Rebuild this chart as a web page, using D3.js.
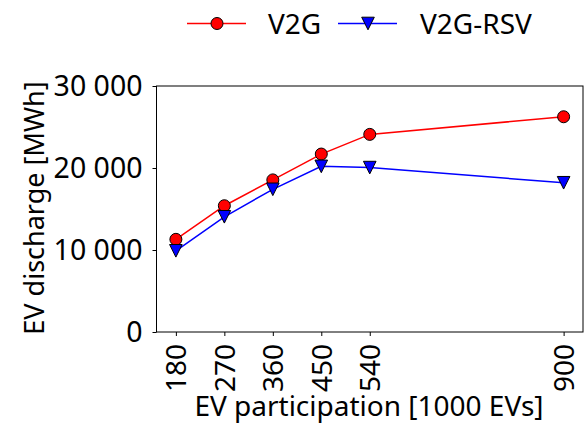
<!DOCTYPE html>
<html><head><meta charset="utf-8">
<script src="https://cdn.jsdelivr.net/npm/d3@7"></script>
<style>body{margin:0;background:#fff}svg{display:block}text{font-family:"Noto Sans",sans-serif;fill:#000}</style>
</head><body><svg id="c" width="585" height="424"></svg>
<script>
const participation = [180, 270, 360, 450, 540, 900];
const v2g = [11300, 15400, 18550, 21700, 24100, 26250];
const v2gRsv = [9900, 14050, 17400, 20200, 20050, 18200];
const yTicks = [0, 10000, 20000, 30000];
const seriesNames = ["V2G", "V2G-RSV"];

const svg = d3.select("#c");
const L = 156.5, R = 583, T = 86, B = 332;
const x = d3.scaleLinear().domain([144, 936]).range([L, R]);
const y = d3.scaleLinear().domain([0, 30000]).range([B, T]);
const fmt = v => d3.format(",")(v).replace(/,/g, " ");
const FS = 28;

// frame
svg.append("rect").attr("x", L).attr("y", T).attr("width", R - L).attr("height", B - T)
  .attr("fill", "none").attr("stroke", "#000").attr("stroke-width", 1);

// y axis
const ya = svg.append("g").attr("transform", `translate(${L},0)`)
  .call(d3.axisLeft(y).tickValues(yTicks).tickSize(4).tickPadding(10).tickFormat(fmt));
ya.select(".domain").remove();
ya.selectAll("text").style("font-size", "28.5px").style("font-family", '"Noto Sans",sans-serif').attr("fill", "#000");

// x axis
const xa = svg.append("g").attr("transform", `translate(0,${B})`)
  .call(d3.axisBottom(x).tickValues(participation).tickSize(4).tickFormat(d3.format("d")));
xa.select(".domain").remove();
xa.selectAll("text").style("font-size", FS + "px").style("font-family", '"Noto Sans",sans-serif').attr("fill", "#000")
  .attr("transform", "rotate(-90)").attr("text-anchor", "end").attr("x", -12).attr("y", 0).attr("dy", "0.35em");

// axis labels
svg.append("text").attr("x", 369).attr("y", 415.5).attr("text-anchor", "middle")
  .style("font-size", "28px").text("EV participation [1000 EVs]");
svg.append("text").attr("transform", `translate(44,${208}) rotate(-90)`).attr("text-anchor", "middle")
  .style("font-size", "27px").text("EV discharge [MWh]");

const series = [
  {name: seriesNames[0], vals: v2g, color: "#ff0000", marker: "circle"},
  {name: seriesNames[1], vals: v2gRsv, color: "#0000ff", marker: "tri"}
];
const line = d3.line().x((d, i) => x(participation[i])).y(d => y(d));
function drawMarker(g, cx, cy, s) {
  if (s.marker === "circle") {
    g.append("circle").attr("cx", cx).attr("cy", cy).attr("r", 6)
      .attr("fill", s.color).attr("stroke", "#000").attr("stroke-width", 1);
  } else {
    const h = 6.3;
    g.append("path").attr("d", `M${cx - h},${cy - h}L${cx + h},${cy - h}L${cx},${cy + h}Z`)
      .attr("fill", s.color).attr("stroke", "#000").attr("stroke-width", 1);
  }
}
series.forEach(s => {
  svg.append("path").datum(s.vals).attr("d", line).attr("fill", "none")
    .attr("stroke", s.color).attr("stroke-width", 1.5);
});
series.forEach(s => {
  const g = svg.append("g");
  s.vals.forEach((v, i) => drawMarker(g, x(participation[i]), y(v), s));
});

// legend
const leg = [{x0: 187, tx: 268}, {x0: 338, tx: 420}];
series.forEach((s, i) => {
  const g = svg.append("g");
  const ly = 23.5;
  g.append("line").attr("x1", leg[i].x0).attr("x2", leg[i].x0 + 59).attr("y1", ly).attr("y2", ly)
    .attr("stroke", s.color).attr("stroke-width", 1.5);
  drawMarker(g, leg[i].x0 + 30, ly, s);
  g.append("text").attr("x", leg[i].tx).attr("y", ly).attr("dy", "0.36em")
    .style("font-size", "28px").text(s.name);
});
</script></body></html>
